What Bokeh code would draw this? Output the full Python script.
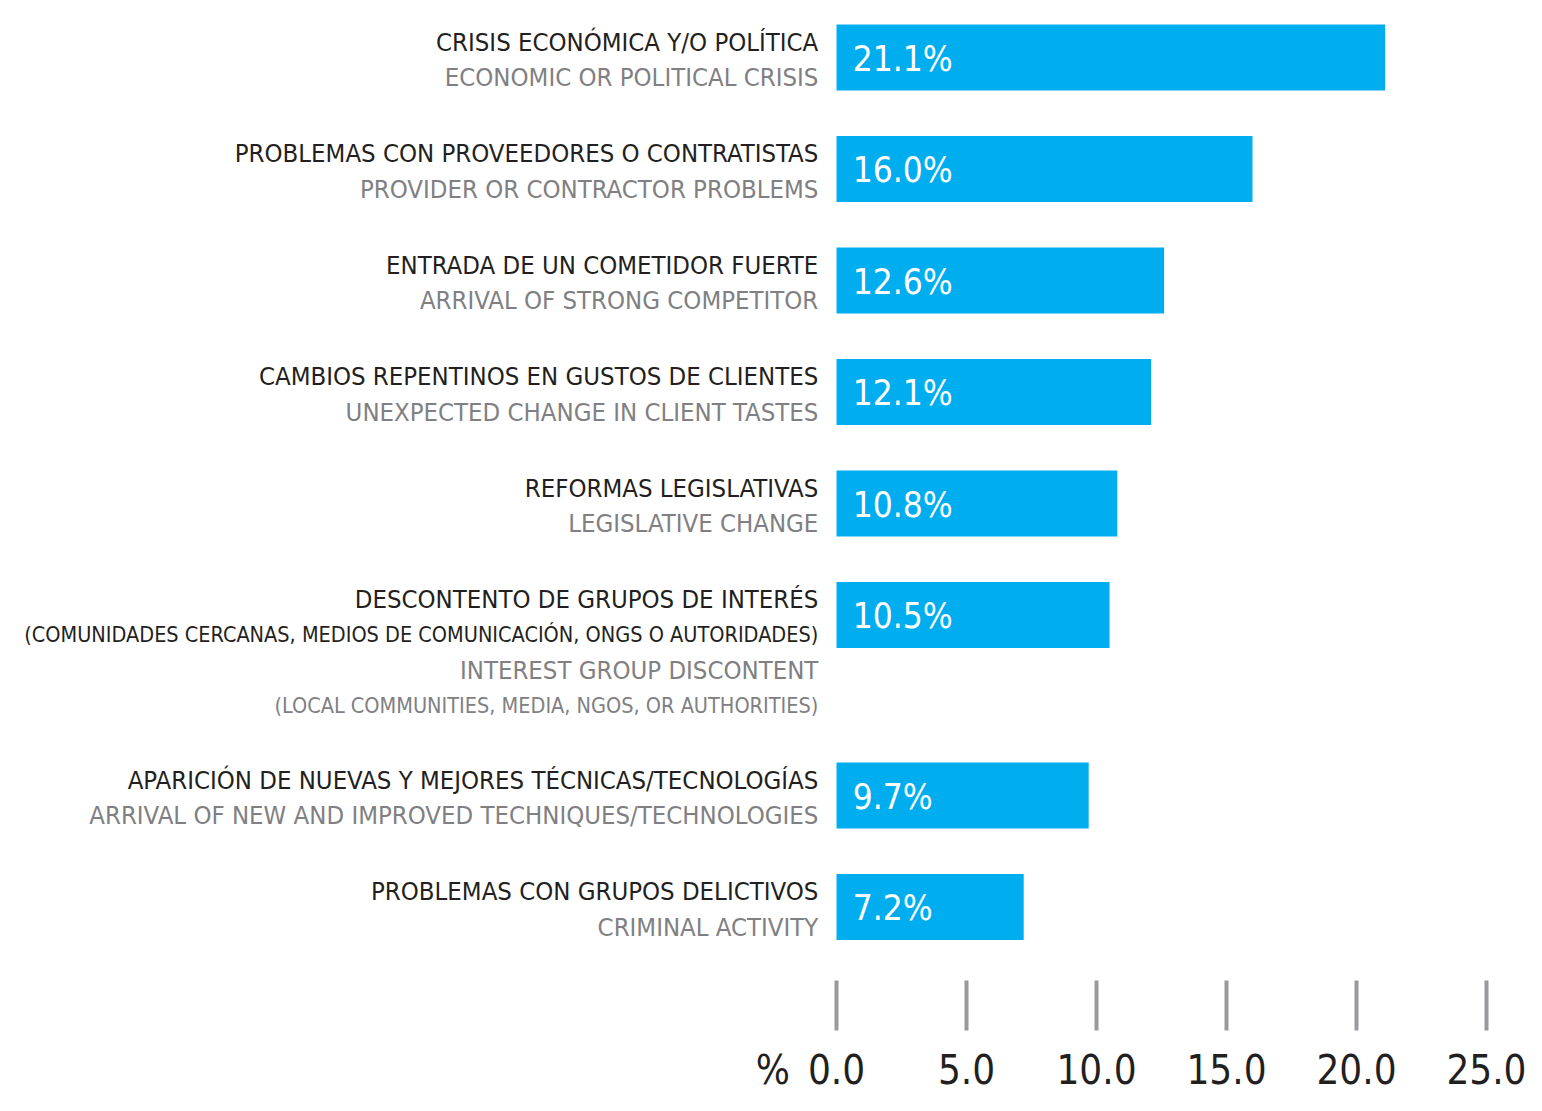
from bokeh.plotting import figure
from bokeh.models import Range1d, LinearAxis, FixedTicker, ColumnDataSource
from bokeh.core.properties import value
from bokeh.embed import file_html
from bokeh.resources import INLINE

# ---- data ----
spanish = [
    ["CRISIS ECONÓMICA Y/O POLÍTICA"],
    ["PROBLEMAS CON PROVEEDORES O CONTRATISTAS"],
    ["ENTRADA DE UN COMETIDOR FUERTE"],
    ["CAMBIOS REPENTINOS EN GUSTOS DE CLIENTES"],
    ["REFORMAS LEGISLATIVAS"],
    ["DESCONTENTO DE GRUPOS DE INTERÉS",
     "(COMUNIDADES CERCANAS, MEDIOS DE COMUNICACIÓN, ONGS O AUTORIDADES)"],
    ["APARICIÓN DE NUEVAS Y MEJORES TÉCNICAS/TECNOLOGÍAS"],
    ["PROBLEMAS CON GRUPOS DELICTIVOS"],
]
english = [
    ["ECONOMIC OR POLITICAL CRISIS"],
    ["PROVIDER OR CONTRACTOR PROBLEMS"],
    ["ARRIVAL OF STRONG COMPETITOR"],
    ["UNEXPECTED CHANGE IN CLIENT TASTES"],
    ["LEGISLATIVE CHANGE"],
    ["INTEREST GROUP DISCONTENT",
     "(LOCAL COMMUNITIES, MEDIA, NGOS, OR AUTHORITIES)"],
    ["ARRIVAL OF NEW AND IMPROVED TECHNIQUES/TECHNOLOGIES"],
    ["CRIMINAL ACTIVITY"],
]
values = [21.1, 16.0, 12.6, 12.1, 10.8, 10.5, 9.7, 7.2]
x_ticks = [0, 5, 10, 15, 20, 25]
x_tick_labels = ["0.0", "5.0", "10.0", "15.0", "20.0", "25.0"]
unit_label = "%"

# ---- layout (pixel-like vertical units, y grows downward) ----
FIRST_ROW = 57
ROW_STEP = 111.5
EXTRA_LINE = 34.5
LINE_PITCH = 35.5
BAR_H = 66
FONT = "DejaVu Sans Condensed"
BLUE = "#00aeef"
DARK = "#231f20"
GRAY = "#808083"

centers = []
y = FIRST_ROW
for i in range(len(values)):
    centers.append(y)
    n_lines = len(spanish[i]) + len(english[i])
    y += ROW_STEP + EXTRA_LINE * (n_lines - 2)

W, H = 1526, 1095
p = figure(width=W, height=H, output_backend="svg", toolbar_location=None,
           x_range=Range1d(-32.154, 26.538), y_range=Range1d(980, 0),
           min_border_left=0, min_border_right=0, min_border_top=0,
           min_border_bottom=0, x_axis_location=None, y_axis_location=None)
p.outline_line_color = None
p.xgrid.visible = False
p.ygrid.visible = False
p.background_fill_color = "white"
p.border_fill_color = "white"

src = ColumnDataSource(dict(y=centers, right=values,
                            lab=[f"{v:.1f}%" for v in values]))
p.hbar(y="y", left=0, right="right", height=BAR_H, source=src,
       fill_color=BLUE, line_color=None)
p.text(x=0.62, y="y", text="lab", source=src, text_color="white",
       text_font=value(FONT), text_font_size="35px",
       text_baseline="middle", text_align="left", y_offset=1)

# category labels
lx, ly, lt, lc, ls = [], [], [], [], []
for i, c in enumerate(centers):
    lines = []
    for k, s in enumerate(spanish[i]):
        lines.append((s, DARK, "25.5px" if k == 0 else "21.5px"))
    for k, s in enumerate(english[i]):
        lines.append((s, GRAY, "25.5px" if k == 0 else "21.5px"))
    for j, (s, col, fs) in enumerate(lines):
        lx.append(-0.7)
        ly.append(c - 17 + LINE_PITCH * j)
        lt.append(s)
        lc.append(col)
        ls.append(fs)
lsrc = ColumnDataSource(dict(x=lx, y=ly, t=lt, c=lc, s=ls))
p.text(x="x", y="y", text="t", text_color="c", text_font_size="s",
       source=lsrc, text_font=value(FONT), text_align="right",
       text_baseline="middle", y_offset=1)

# x axis: minor ticks as the gray marks, major labels incl. unit sign
unit_pos = -2.45
ax = LinearAxis(ticker=FixedTicker(ticks=[unit_pos] + x_ticks,
                                   minor_ticks=x_ticks))
ax.major_label_overrides = {unit_pos: unit_label,
                            **{t: l for t, l in zip(x_ticks, x_tick_labels)}}
ax.axis_line_color = None
ax.major_tick_line_color = None
ax.major_tick_in = 0
ax.major_tick_out = 0
ax.minor_tick_in = 0
ax.minor_tick_out = 50
ax.minor_tick_line_color = "#9a9a9e"
ax.minor_tick_line_width = 4
ax.major_label_standoff = 16
ax.major_label_text_font = FONT
ax.major_label_text_font_size = "40px"
ax.major_label_text_color = DARK
p.add_layout(ax, "below")

open("out.html", "w").write(file_html(p, INLINE))
